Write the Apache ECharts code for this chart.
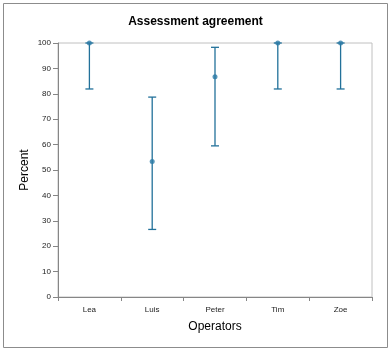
<!DOCTYPE html>
<html><head><meta charset="utf-8">
<script src="https://cdn.jsdelivr.net/npm/echarts@6/dist/echarts.min.js"></script>
<style>html,body{margin:0;padding:0;background:#fff}#c{width:391px;height:352px}</style>
</head><body><div id="c"></div>
<script>
const categories = ['Lea', 'Luis', 'Peter', 'Tim', 'Zoe'];
const percentValues = [100, 53.3, 86.7, 100, 100];
const lowerBounds = [81.9, 26.6, 59.5, 81.9, 81.9];
const upperBounds = [100, 78.7, 98.3, 100, 100];
const yTicks = [0, 10, 20, 30, 40, 50, 60, 70, 80, 90, 100];

const barColor = '#22719a';
const chart = echarts.init(document.getElementById('c'), null, {renderer: 'canvas'});
chart.setOption({
  animation: false,
  title: {
    text: 'Assessment agreement', left: 'center', top: 11,
    textStyle: {fontFamily: 'Liberation Sans, Arial', fontSize: 12, fontWeight: 'bold', color: '#000'}
  },
  graphic: [{
    type: 'rect', shape: {x: 3.5, y: 3.5, width: 384, height: 344},
    style: {fill: null, stroke: '#8c8c8c', lineWidth: 1}, z: 0
  }],
  grid: {left: 58, right: 19, top: 43, bottom: 55, show: true, borderColor: '#c0c0c0', borderWidth: 1, backgroundColor: 'transparent'},
  xAxis: {
    type: 'category', data: categories, boundaryGap: true,
    name: 'Operators', nameLocation: 'middle', nameGap: 24,
    nameTextStyle: {fontFamily: 'Liberation Sans, Arial', fontSize: 12, color: '#000'},
    axisLine: {lineStyle: {color: '#868686', width: 1}},
    axisTick: {show: true, interval: 0, length: 4, lineStyle: {color: '#868686'}},
    axisLabel: {fontFamily: 'Liberation Sans, Arial', fontSize: 8, color: '#222', margin: 9}
  },
  yAxis: {
    type: 'value', min: yTicks[0], max: yTicks[yTicks.length - 1], interval: 10,
    name: 'Percent', nameLocation: 'middle', nameGap: 27, nameRotate: 90, nameMoveOverlap: false,
    nameTextStyle: {fontFamily: 'Liberation Sans, Arial', fontSize: 12, color: '#000'},
    axisLine: {show: true, lineStyle: {color: '#868686', width: 1}},
    axisTick: {show: true, length: 5, lineStyle: {color: '#868686'}},
    splitLine: {show: false},
    axisLabel: {fontFamily: 'Liberation Sans, Arial', fontSize: 8, color: '#222', margin: 7}
  },
  series: [{
    type: 'custom',
    data: categories.map((c, i) => [i, lowerBounds[i], upperBounds[i]]),
    renderItem: function (params, api) {
      const x = api.value(0);
      const lo = api.coord([x, api.value(1)]);
      const hi = api.coord([x, api.value(2)]);
      const hw = 4;
      const st = {stroke: barColor, lineWidth: 1.3};
      return {type: 'group', children: [
        {type: 'line', shape: {x1: lo[0], y1: lo[1], x2: hi[0], y2: hi[1]}, style: st},
        {type: 'line', shape: {x1: lo[0] - hw, y1: lo[1], x2: lo[0] + hw, y2: lo[1]}, style: st},
        {type: 'line', shape: {x1: hi[0] - hw, y1: hi[1], x2: hi[0] + hw, y2: hi[1]}, style: st}
      ]};
    },
    z: 3
  }, {
    type: 'scatter', data: percentValues, symbol: 'circle', symbolSize: 5,
    itemStyle: {color: '#2a7aa6'}, z: 4
  }]
});
</script></body></html>
